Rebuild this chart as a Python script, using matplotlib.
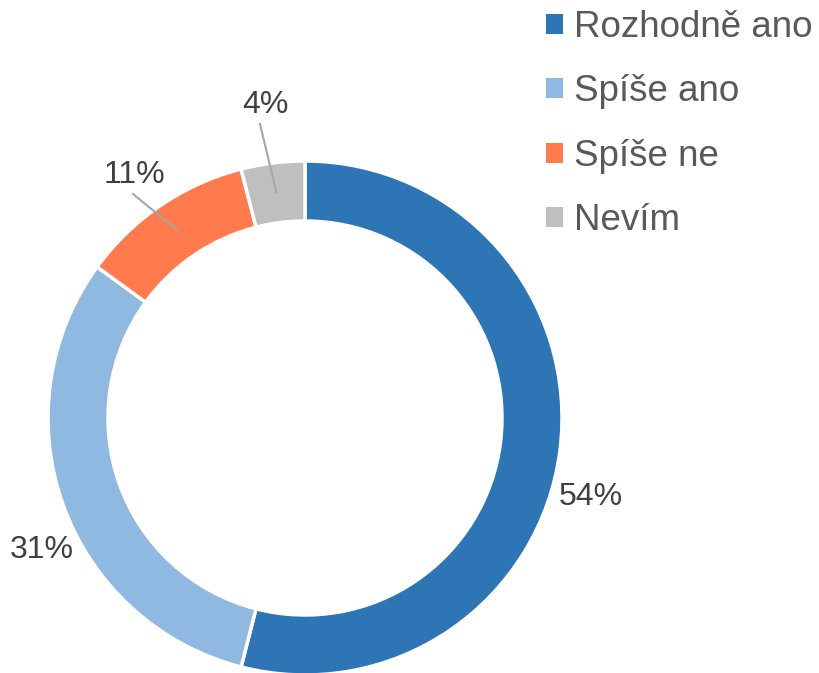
import numpy as np
import matplotlib.pyplot as plt
from matplotlib.patches import Patch

plt.rcParams['font.family'] = ['Liberation Sans', 'DejaVu Sans']

categories = ['Rozhodně ano', 'Spíše ano', 'Spíše ne', 'Nevím']
shares = [54, 31, 11, 4]
colors = ['#2E75B6', '#8FB9E1', '#FF7B4D', '#BFBFBF']

# text positions for the percentage labels (pixel coords, y from top)
label_pos = [(591, 497), (42, 550), (134, 175), (265, 105)]
leader = [False, False, True, True]

W, H = 819, 673
fig = plt.figure(figsize=(W / 100, H / 100), dpi=100)
ax = fig.add_axes([0, 0, 1, 1])

cx, cy = 305, H - 418
r_out, r_in = 257, 197
wedges, _ = ax.pie(shares, colors=colors, startangle=90, counterclock=False,
                   center=(cx, cy), radius=r_out, frame=True,
                   wedgeprops=dict(width=r_out - r_in, edgecolor='white', linewidth=2.5))
ax.set_xlim(0, W)
ax.set_ylim(0, H)
ax.set_aspect('equal')
ax.axis('off')

r_mid = (r_out + r_in) / 2
cum = 0
for v, (px, py), lead in zip(shares, label_pos, leader):
    mid = np.deg2rad(90 - (cum + v / 2) / sum(shares) * 360)
    cum += v
    tx, ty = px, H - py
    ax.text(tx, ty, f'{v}%', ha='center', va='center', fontsize=23, color='#404040')
    if lead:
        ex, ey = cx + r_mid * np.cos(mid), cy + r_mid * np.sin(mid)
        ax.plot([tx - 1 if v > 5 else tx - 5, ex], [ty - 19, ey], color='#A6A6A6', lw=1.5)

handles = [Patch(facecolor=c, edgecolor='none') for c in colors]
fig.legend(handles, categories, loc='upper left', bbox_to_anchor=(546 / W, 1 - 10 / H),
           frameon=False, fontsize=26.5, labelcolor='#595959',
           handlelength=0.45, handleheight=0.45, handletextpad=0.3,
           labelspacing=0.8, borderaxespad=0, borderpad=0)

fig.savefig('out.png', dpi=100)
